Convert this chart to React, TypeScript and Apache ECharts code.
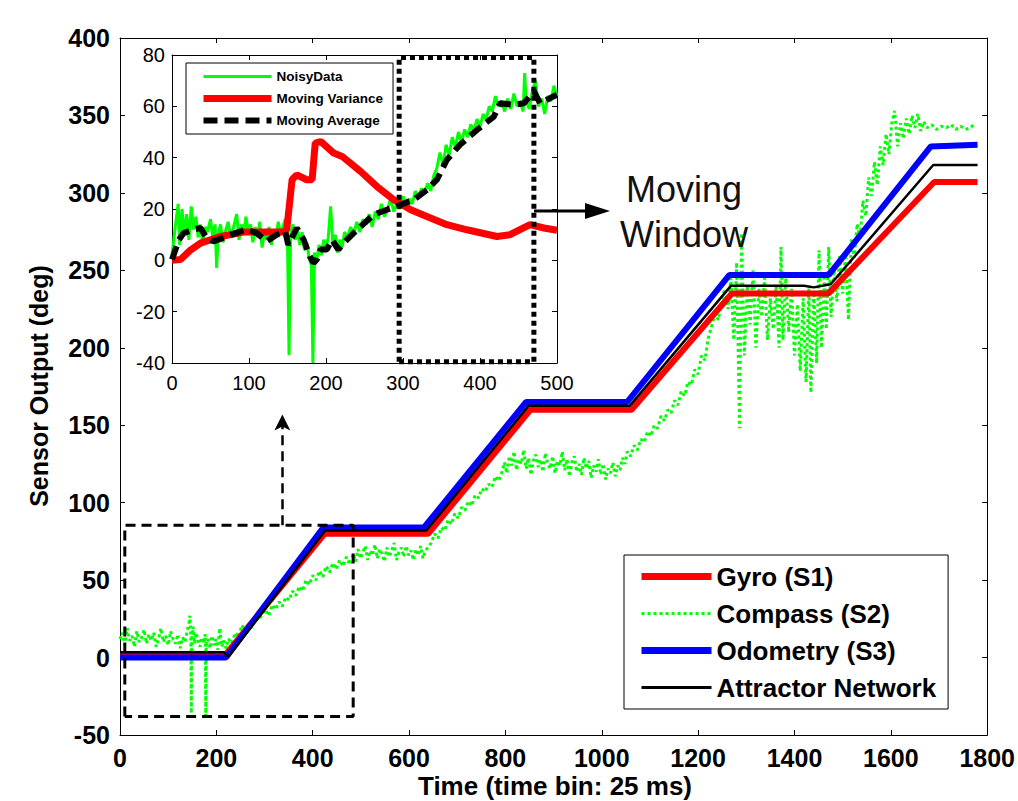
import React, { useEffect, useRef } from 'react';
import * as echarts from 'echarts';

const FONT = 'Arial, "Liberation Sans", Helvetica, sans-serif';

// ---------- main chart data ----------
const mainLegendNames = ['Gyro (S1)', 'Compass (S2)', 'Odometry (S3)', 'Attractor Network'];

const gyroData = [
  [0, 1.5], [218, 1.5], [425, 80], [640, 80], [852, 160], [1062, 160],
  [1270, 235], [1470, 235], [1690, 307], [1780, 307],
];

const odometryData = [
  [0, 0], [220, 0], [422, 84], [631, 84], [843, 165], [1053, 165],
  [1265, 247], [1471, 247], [1683, 330], [1780, 331],
];

const attractorData = [
  [0, 3.5], [215, 3.5], [225, 0.5], [426, 82], [636, 82], [848, 162.5], [1058, 162.5],
  [1268, 240], [1420, 240], [1440, 239], [1475, 241], [1688, 318], [1780, 318],
];

const compassData = [
  [0, 12], [5, 16], [10, 8], [15, 19], [20, 11], [25, 14], [30, 7], [35, 17], [40, 10], [45, 13],
  [50, 18], [55, 9], [60, 15], [65, 11], [70, 16], [75, 7], [80, 12], [85, 19], [90, 10], [95, 14],
  [100, 8], [105, 17], [110, 12], [115, 9], [120, 15], [125, 6], [130, 13], [135, 10], [140, 18],
  [143, 22], [145, 27], [147, 14], [148, -36], [149, 12], [152, 20], [155, 9], [158, 16], [162, 11],
  [166, 7], [170, 13], [174, 9], [177, 15], [178, -38], [179, 8], [183, 12], [187, 6], [191, 14],
  [195, 8], [199, 12], [203, 5], [207, 19], [211, 7], [215, 11], [220, 6], [225, 12],
  [232, 9], [239, 16], [246, 13], [253, 21], [260, 17], [267, 22], [274, 19], [281, 27], [288, 24],
  [295, 28], [302, 31], [309, 27], [316, 34], [323, 31], [330, 36], [337, 33], [344, 39], [351, 37],
  [358, 43], [365, 40], [372, 46], [379, 43], [386, 50], [393, 47], [400, 53], [407, 50], [414, 56],
  [421, 52], [428, 59], [435, 55], [442, 61], [449, 57], [456, 63], [463, 59], [470, 65], [477, 60],
  [484, 67], [489, 62], [494, 70], [499, 64], [504, 68], [509, 72], [514, 63], [519, 69], [524, 66],
  [529, 73], [534, 64], [539, 70], [544, 67], [549, 62], [554, 71], [559, 65], [564, 69], [569, 74],
  [574, 63], [579, 68], [584, 71], [589, 65], [594, 72], [599, 66], [604, 69], [609, 63], [614, 70],
  [619, 66], [624, 72], [629, 64], [634, 69], [639, 71],
  [646, 74], [653, 80], [660, 77], [667, 84], [674, 82], [681, 89], [688, 86], [695, 93], [702, 90],
  [709, 97], [716, 95], [723, 101], [730, 98], [737, 105], [744, 103], [751, 109], [758, 107],
  [765, 112], [772, 110], [779, 117], [786, 114], [793, 120],
  [798, 126], [803, 119], [808, 130], [813, 124], [818, 133], [823, 121], [828, 128], [833, 125],
  [838, 134], [843, 122], [848, 129], [853, 118], [858, 127], [863, 131], [868, 123], [873, 128],
  [878, 120], [883, 132], [888, 125], [893, 122], [898, 130], [903, 119], [908, 127], [913, 124],
  [918, 133], [923, 121], [928, 128], [933, 117], [938, 126], [943, 130], [948, 120], [953, 125],
  [958, 118], [963, 129], [968, 122], [973, 127], [978, 116], [983, 124], [988, 120], [993, 128],
  [998, 118], [1003, 125], [1008, 115], [1013, 122], [1018, 119], [1023, 126], [1028, 117],
  [1033, 124], [1038, 121], [1043, 129], [1048, 125], [1053, 133],
  [1060, 130], [1067, 137], [1074, 134], [1081, 141], [1088, 139], [1095, 146], [1102, 143],
  [1109, 150], [1116, 148], [1123, 156], [1130, 153], [1137, 160], [1144, 158], [1151, 166],
  [1158, 163], [1165, 172], [1172, 169], [1179, 178], [1186, 176], [1193, 186], [1200, 183],
  [1207, 195], [1214, 192], [1221, 206], [1228, 214], [1235, 222], [1242, 218], [1249, 232],
  [1256, 238], [1262, 225], [1268, 245],
  [1274, 205], [1280, 255], [1286, 148], [1290, 274], [1296, 195], [1302, 240], [1308, 215],
  [1314, 250], [1320, 200], [1326, 238], [1332, 220], [1338, 245], [1344, 205], [1350, 232],
  [1356, 212], [1362, 240], [1368, 200], [1372, 265], [1376, 205], [1382, 245], [1388, 210],
  [1394, 238], [1400, 195], [1406, 228], [1412, 185], [1418, 232], [1424, 178], [1430, 240],
  [1434, 171], [1440, 236], [1446, 190], [1451, 263], [1456, 200], [1462, 245], [1466, 212],
  [1471, 265], [1476, 220], [1482, 250], [1488, 230], [1494, 260], [1500, 235], [1506, 262],
  [1512, 218], [1518, 270], [1524, 258], [1530, 280], [1536, 270], [1542, 295], [1548, 285],
  [1554, 310], [1560, 298], [1566, 320], [1572, 305], [1578, 330], [1584, 318], [1590, 338],
  [1596, 325], [1602, 345], [1608, 353], [1614, 330], [1620, 345], [1626, 335], [1632, 348],
  [1638, 338], [1644, 350], [1650, 342], [1656, 351], [1662, 340], [1668, 346], [1675, 342],
  [1685, 344], [1695, 341], [1705, 343], [1715, 342], [1725, 344], [1735, 341], [1745, 343],
  [1755, 341], [1765, 342], [1775, 345],
];

// zoom box in main chart (data coords) and dashed pointer
const zoomBox = [[10, -38], [10, 85.5], [484, 85.5], [484, -38], [10, -38]];
const pointerFrom = [337, 85.5];
const pointerTo = [337, 157];

// ---------- inset data ----------
const insetLegendNames = ['NoisyData', 'Moving Variance', 'Moving Average'];

const noisyData = [
  [0, 2], [5, 15], [8, 22], [10, 6], [13, 20], [16, 10], [19, 18], [22, 8], [25, 21], [28, 12],
  [31, 17], [34, 9], [37, 14], [40, 6], [43, 13], [46, 11], [50, 16], [53, 9], [56, 14], [58, -3],
  [60, 10], [63, 14], [66, 7], [70, 12], [73, 15], [76, 9], [80, 13], [84, 18], [87, 8], [90, 14],
  [93, 10], [96, 17], [99, 11], [102, 14], [105, 7], [108, 13], [111, 9], [114, 15], [117, 5],
  [120, 11], [123, 8], [126, 13], [129, 6], [132, 12], [135, 9], [138, 15], [141, 10], [144, 13],
  [147, 16], [150, 8], [152, -37], [154, 10], [157, 14], [160, 8], [163, 12], [166, 6], [169, 11],
  [172, 4], [175, 7], [178, 1], [181, -2], [183, -40], [185, 3], [188, 0], [191, 6], [194, 2],
  [197, 8], [200, 5], [203, 9], [206, 21], [209, 6], [212, 10], [215, 3], [218, 8], [221, 5],
  [224, 11], [228, 9], [232, 13], [236, 10], [240, 15], [244, 11], [248, 16], [252, 14], [256, 18],
  [260, 13], [264, 19], [268, 16], [272, 22], [276, 17], [280, 20], [284, 24], [288, 19], [292, 22],
  [296, 20], [300, 25], [304, 21], [308, 24], [312, 22], [316, 27], [320, 24], [324, 28], [328, 26],
  [332, 30], [336, 27], [340, 33], [344, 36], [348, 42], [352, 37], [356, 45], [360, 41], [364, 48],
  [368, 44], [372, 50], [376, 46], [380, 51], [384, 48], [388, 53], [392, 50], [396, 55], [400, 52],
  [404, 57], [408, 55], [412, 60], [416, 58], [420, 64], [424, 60], [428, 62], [432, 58], [436, 63],
  [440, 59], [444, 65], [448, 60], [452, 62], [456, 58], [458, 73], [460, 62], [464, 59], [468, 66],
  [472, 70], [476, 60], [480, 63], [484, 57], [488, 64], [492, 62], [496, 68], [500, 64],
];

const varianceData = [
  [0, 0], [11, 0.3], [24, 4], [37, 6.7], [63, 9.3], [93, 11], [145, 11], [149, 12], [156, 31.4],
  [162, 33.3], [175, 31.4], [182, 31.4], [186, 45.7], [193, 46.3], [210, 41.8], [221, 40.5],
  [245, 34.6], [266, 28.8], [288, 23.6], [310, 19.7], [331, 17.1], [357, 13.9], [383, 11.9],
  [422, 9.3], [439, 10], [465, 13.9], [483, 12.6], [500, 11.7],
];

const averageData = [
  [0, 0.3], [9, 8], [15, 10.6], [28, 12], [37, 12.6], [45, 8.7], [54, 7.4], [71, 9.3], [89, 11.3],
  [97, 12], [110, 10.6], [123, 7.4], [136, 10], [147, 11.3], [151, 6], [162, 12.6], [171, 8],
  [179, 1.6], [184, -1], [188, 0.3], [193, 4.2], [201, 4.2], [208, 8], [216, 4.2], [227, 8],
  [245, 13.2], [262, 17.8], [279, 19.7], [297, 21.7], [314, 23.6], [331, 27.5], [344, 31.4],
  [357, 39.2], [374, 45], [396, 50.8], [418, 56], [426, 61.2], [444, 60.6], [457, 61.2],
  [470, 65.8], [478, 61.2], [491, 63.2], [500, 64.5],
];

const windowBox = [[295, -39.5], [295, 79], [470, 79], [470, -39.5], [295, -39.5]];

function axisBase(fontSize: number, bold: boolean, showLabel: boolean, margin: number) {
  return {
    axisLine: { show: true, onZero: false, lineStyle: { color: '#000', width: 1 } },
    axisTick: { show: true, inside: true, length: 5, lineStyle: { color: '#000', width: 1 } },
    splitLine: { show: false },
    axisLabel: {
      show: showLabel,
      color: '#000',
      fontSize,
      fontWeight: bold ? 'bold' : 'normal',
      fontFamily: FONT,
      margin,
      formatter: (v: number) => String(v),
    },
  };
}

const hidden = { opacity: 0 };

export default function App() {
  const ref = useRef<HTMLDivElement>(null);

  useEffect(() => {
    document.body.style.margin = '0';
    if (!ref.current) return;
    const chart = echarts.init(ref.current, undefined, { renderer: 'svg' });

    const option: any = {
      animation: false,
      backgroundColor: '#fff',
      grid: [
        { left: 120, top: 38, width: 875, height: 697, show: false },
        {
          left: 172, top: 55, width: 385, height: 308, show: true,
          backgroundColor: '#fff', borderWidth: 0, z: 3,
        },
      ],
      xAxis: [
        { type: 'value', gridIndex: 0, position: 'bottom', min: 0, max: 1800, interval: 200, ...axisBase(25, true, true, 10) },
        { type: 'value', gridIndex: 0, position: 'top', min: 0, max: 1800, interval: 200, ...axisBase(25, true, false, 8) },
        { type: 'value', gridIndex: 1, position: 'bottom', min: 0, max: 500, interval: 100, z: 4, ...axisBase(20, false, true, 10) },
        { type: 'value', gridIndex: 1, position: 'top', min: 0, max: 500, interval: 100, z: 4, ...axisBase(20, false, false, 8) },
      ],
      yAxis: [
        { type: 'value', gridIndex: 0, position: 'left', min: -50, max: 400, interval: 50, ...axisBase(25, true, true, 10) },
        { type: 'value', gridIndex: 0, position: 'right', min: -50, max: 400, interval: 50, ...axisBase(25, true, false, 8) },
        { type: 'value', gridIndex: 1, position: 'left', min: -40, max: 80, interval: 20, z: 4, ...axisBase(20, false, true, 7) },
        { type: 'value', gridIndex: 1, position: 'right', min: -40, max: 80, interval: 20, z: 4, ...axisBase(20, false, false, 8) },
      ],
      legend: [
        {
          orient: 'vertical',
          left: 624,
          top: 555,
          data: [
            { name: mainLegendNames[0], itemStyle: hidden, lineStyle: { width: 7 } },
            { name: mainLegendNames[1], itemStyle: hidden, lineStyle: { width: 3, type: [3, 3] } },
            { name: mainLegendNames[2], itemStyle: hidden, lineStyle: { width: 7 } },
            { name: mainLegendNames[3], itemStyle: hidden, lineStyle: { width: 3 } },
          ],
          itemWidth: 70,
          itemHeight: 12,
          itemGap: 10,
          padding: [8, 12, 8, 14],
          borderColor: '#000',
          borderWidth: 1,
          backgroundColor: '#fff',
          selectedMode: false,
          textStyle: { fontSize: 26, fontWeight: 'bold', color: '#000', fontFamily: FONT, lineHeight: 27 },
        },
        {
          orient: 'vertical',
          left: 186,
          top: 63,
          data: [
            { name: insetLegendNames[0], itemStyle: hidden, lineStyle: { width: 3 } },
            { name: insetLegendNames[1], lineStyle: { width: 7 } },
            { name: insetLegendNames[2], itemStyle: hidden, lineStyle: { width: 6, type: [14, 7] } },
          ],
          itemWidth: 68,
          itemHeight: 8,
          itemGap: 7,
          padding: [6, 10, 6, 14],
          borderColor: '#000',
          borderWidth: 1,
          backgroundColor: '#fff',
          selectedMode: false,
          z: 6,
          textStyle: { fontSize: 13.5, fontWeight: 'bold', color: '#000', fontFamily: FONT, lineHeight: 15 },
        },
      ],
      series: [
        {
          name: 'Compass (S2)', type: 'line', xAxisIndex: 0, yAxisIndex: 0, data: compassData,
          symbol: 'none', lineStyle: { color: '#00ff00', width: 3, type: [3, 3] }, itemStyle: { color: '#00ff00' }, z: 2,
        },
        {
          name: 'Gyro (S1)', type: 'line', xAxisIndex: 0, yAxisIndex: 0, data: gyroData,
          symbol: 'none', lineStyle: { color: '#ff0000', width: 6 }, itemStyle: { color: '#ff0000' }, z: 3,
        },
        {
          name: 'Odometry (S3)', type: 'line', xAxisIndex: 0, yAxisIndex: 0, data: odometryData,
          symbol: 'none', lineStyle: { color: '#0000ff', width: 6 }, itemStyle: { color: '#0000ff' }, z: 3,
        },
        {
          name: 'Attractor Network', type: 'line', xAxisIndex: 0, yAxisIndex: 0, data: attractorData,
          symbol: 'none', lineStyle: { color: '#000', width: 2.5 }, itemStyle: { color: '#000' }, z: 4,
        },
        {
          name: 'zoomBox', type: 'line', xAxisIndex: 0, yAxisIndex: 0, data: zoomBox,
          symbol: 'none', lineStyle: { color: '#000', width: 3, type: [10, 6] }, z: 5, silent: true,
          markLine: {
            silent: true,
            symbol: ['none', 'arrow'],
            symbolSize: [12, 16],
            label: { show: false },
            lineStyle: { color: '#000', width: 2.5, type: [10, 6] },
            data: [[{ coord: pointerFrom }, { coord: pointerTo }]],
          },
        },
        {
          name: 'NoisyData', type: 'line', xAxisIndex: 2, yAxisIndex: 2, data: noisyData,
          symbol: 'none', lineStyle: { color: '#00ff00', width: 3 }, itemStyle: { color: '#00ff00' }, z: 5,
        },
        {
          name: 'Moving Variance', type: 'line', xAxisIndex: 2, yAxisIndex: 2, data: varianceData,
          symbol: 'circle', showSymbol: false, lineStyle: { color: '#ff0000', width: 7 }, itemStyle: { color: '#ff0000' }, z: 5,
        },
        {
          name: 'Moving Average', type: 'line', xAxisIndex: 2, yAxisIndex: 2, data: averageData,
          symbol: 'none', lineStyle: { color: '#000', width: 6, type: [14, 7] }, itemStyle: { color: '#000' }, z: 5,
        },
        {
          name: 'windowBox', type: 'line', xAxisIndex: 2, yAxisIndex: 2, data: windowBox,
          symbol: 'none', lineStyle: { color: '#000', width: 5, type: [5, 4] }, z: 5, silent: true,
        },
      ],
      graphic: [
        {
          type: 'text', x: 39, y: 386, rotation: Math.PI / 2,
          style: {
            text: 'Sensor Output (deg)', fill: '#000', fontSize: 25, fontWeight: 'bold',
            fontFamily: FONT, align: 'center', verticalAlign: 'middle',
          },
        },
        {
          type: 'text', x: 555, y: 786,
          style: {
            text: 'Time (time bin: 25 ms)', fill: '#000', fontSize: 26, fontWeight: 'bold',
            fontFamily: FONT, align: 'center', verticalAlign: 'middle',
          },
        },
        {
          type: 'line', z: 10,
          shape: { x1: 534, y1: 211, x2: 590, y2: 211 },
          style: { stroke: '#000', lineWidth: 3 },
        },
        {
          type: 'polygon', z: 10,
          shape: { points: [[585, 203], [610, 211], [585, 219]] },
          style: { fill: '#000' },
        },
        {
          type: 'text', x: 684, y: 189, z: 10,
          style: {
            text: 'Moving', fill: '#111', fontSize: 36, fontFamily: FONT,
            align: 'center', verticalAlign: 'middle',
          },
        },
        {
          type: 'text', x: 684, y: 234, z: 10,
          style: {
            text: 'Window', fill: '#111', fontSize: 36, fontFamily: FONT,
            align: 'center', verticalAlign: 'middle',
          },
        },
      ],
    };

    chart.setOption(option);
    return () => chart.dispose();
  }, []);

  return <div ref={ref} style={{ width: 1018, height: 801, position: 'absolute', left: 0, top: 0 }} />;
}
